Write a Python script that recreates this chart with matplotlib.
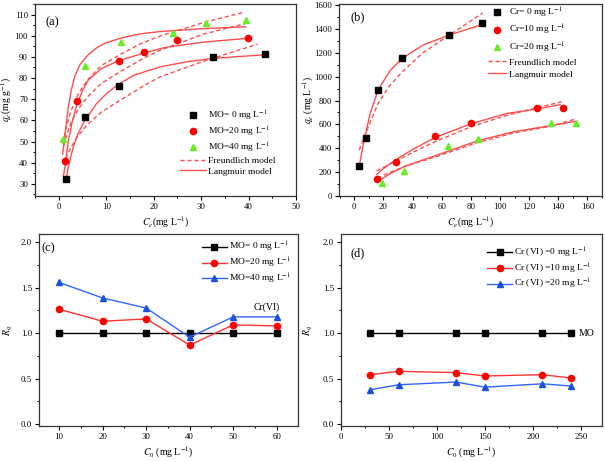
import matplotlib
matplotlib.use("Agg")
import matplotlib.pyplot as plt
from matplotlib.ticker import MultipleLocator

# ---------- panel (a): MO effect on Cr(VI) isotherm ----------
ceA0 = [1.6, 5.5, 12.8, 32.4, 43.4]
qeA0 = [32.4, 61.5, 76.2, 89.9, 91.4]
ceA20 = [1.3, 3.9, 12.6, 17.9, 25.0, 39.8]
qeA20 = [41.0, 69.3, 88.1, 92.1, 98.0, 98.7]
ceA40 = [0.9, 5.6, 13.1, 24.1, 31.0, 39.4]
qeA40 = [51.0, 85.5, 97.1, 101.4, 105.8, 107.4]

# fitted curves
langA0x = [1.5, 2.0, 3.0, 4.0, 5.5, 8.0, 10.0, 12.5, 16.0, 21.4, 27.0, 32.5, 43.4]
langA0y = [31.0, 38.0, 47.0, 53.5, 60.0, 68.0, 72.5, 77.0, 81.5, 85.3, 87.7, 89.3, 91.0]
langA20x = [1.0, 1.3, 1.6, 2.0, 2.8, 3.75, 5.0, 6.2, 9.0, 12.6, 17.9, 22.5, 30.6, 39.9]
langA20y = [34.0, 38.0, 43.0, 50.0, 59.0, 67.0, 74.0, 79.0, 84.5, 88.2, 91.8, 94.5, 97.0, 98.8]
langA40x = [0.8, 1.13, 1.5, 2.0, 2.6, 3.4, 4.5, 6.2, 8.0, 9.75, 13.3, 17.0, 21.4, 30.0, 39.4]
langA40y = [44.0, 49.0, 57.0, 66.0, 74.0, 81.0, 86.5, 91.0, 94.3, 96.5, 99.0, 100.8, 102.0, 103.3, 104.2]

freuA0x = [1.5, 2.5, 4.0, 6.0, 9.0, 13.3, 18.0, 21.4, 30.6, 41.9]
freuA0y = [42.0, 47.0, 52.5, 58.0, 64.0, 70.0, 76.5, 80.6, 88.0, 96.0]
freuA20x = [1.0, 1.5, 2.5, 4.0, 6.0, 9.0, 13.3, 18.0, 21.4, 30.6, 39.4]
freuA20y = [48.0, 52.0, 58.5, 65.0, 71.0, 77.5, 83.5, 89.5, 93.2, 100.8, 105.8]
freuA40x = [0.9, 1.5, 2.5, 4.0, 6.0, 9.0, 13.3, 17.0, 21.4, 30.6, 38.9]
freuA40y = [49.0, 56.0, 64.0, 72.0, 79.0, 86.0, 91.5, 96.0, 99.9, 106.3, 111.0]

# ---------- panel (b): Cr(VI) effect on MO isotherm ----------
ceB0 = [3.4, 7.8, 16.3, 32.8, 64.8, 87.9]
qeB0 = [254, 486, 888, 1153, 1348, 1454]
ceB10 = [15.8, 28.4, 55.4, 80.1, 125.6, 143.4]
qeB10 = [142, 285, 503, 612, 740, 741]
ceB20 = [18.8, 34.1, 64.6, 85.2, 135.3, 152.5]
qeB20 = [106, 212, 419, 475, 612, 616]

langB0x = [3.4, 6.2, 10.8, 16.3, 24.5, 32.8, 47.4, 64.8, 86.3]
langB0y = [250, 435, 687, 888, 1050, 1153, 1267, 1348, 1432]
langB10x = [15.4, 20.0, 28.0, 40.0, 55.4, 80.0, 104.7, 125.5, 141.3]
langB10y = [180, 230, 300, 390, 490, 605, 692, 730, 765]
langB20x = [15.8, 25.0, 35.0, 58.9, 85.2, 110.0, 135.1, 151.6]
langB20y = [120, 190, 250, 352, 465, 540, 590, 625]

freuB0x = [3.4, 6.0, 10.0, 16.3, 24.0, 32.8, 47.0, 64.8, 88.2]
freuB0y = [385, 470, 590, 775, 920, 1040, 1200, 1345, 1535]
freuB10x = [15.4, 28.0, 40.0, 55.4, 80.0, 104.7, 125.5, 142.4]
freuB10y = [210, 290, 365, 455, 580, 676, 740, 790]
freuB20x = [15.8, 25.0, 35.0, 58.9, 85.2, 110.0, 135.1, 151.6]
freuB20y = [150, 200, 250, 340, 450, 530, 585, 645]

# ---------- panel (c): Rq of Cr(VI) ----------
c0C = [10, 20, 30, 40, 50, 60]
rqC0 = [1.0, 1.0, 1.0, 1.0, 1.0, 1.0]
rqC20 = [1.263, 1.131, 1.157, 0.869, 1.091, 1.080]
rqC40 = [1.558, 1.387, 1.277, 0.956, 1.179, 1.179]

# ---------- panel (d): Rq of MO ----------
c0D = [30, 60, 120, 150, 210, 240]
rqD0 = [1.0, 1.0, 1.0, 1.0, 1.0, 1.0]
rqD10 = [0.544, 0.581, 0.567, 0.530, 0.544, 0.507]
rqD20 = [0.378, 0.433, 0.463, 0.407, 0.444, 0.419]

plt.rcParams["font.family"] = "serif"
plt.rcParams["font.serif"] = ["Liberation Serif", "DejaVu Serif"]
plt.rcParams["mathtext.fontset"] = "stix"

fitColor = "#ff4d4d"
green = "#66ee22"
legendFont = 6.8
labelFont = 7


def styleAxis(ax, xMajor, xMinor, yMajor, yMinor):
    """Outward ticks on left/bottom only, frame on all sides."""
    ax.xaxis.set_major_locator(MultipleLocator(xMajor))
    ax.xaxis.set_minor_locator(MultipleLocator(xMinor))
    ax.yaxis.set_major_locator(MultipleLocator(yMajor))
    ax.yaxis.set_minor_locator(MultipleLocator(yMinor))
    ax.tick_params(which="major", direction="out", length=3, width=0.8, labelsize=6.3, pad=2)
    ax.tick_params(which="minor", direction="out", length=1.6, width=0.7)
    for s in ax.spines.values():
        s.set_linewidth(0.9)
        s.set_color("#333333")


def plotIsotherms(ax, fits, points):
    """fits: list of (x, y, style, label); points: list of (x, y, marker, color, size, label)"""
    for x, y, style, label in fits:
        if style == "--":
            ax.plot(x, y, "--", color=fitColor, lw=1, dashes=(3, 2), label=label)
        else:
            ax.plot(x, y, "-", color=fitColor, lw=1, label=label)
    for x, y, marker, color, size, label in points:
        ax.plot(x, y, marker, color=color, ms=size, ls="none", label=label)


fig = plt.figure(figsize=(6.05, 4.62), dpi=100)
order = [2, 3, 4, 0, 1]

# (a)
axA = fig.add_axes([0.0579, 0.5758, 0.4314, 0.4156])
plotIsotherms(axA,
              [(freuA0x, freuA0y, "--", None), (freuA20x, freuA20y, "--", None),
               (freuA40x, freuA40y, "--", "Freundlich model"),
               (langA0x, langA0y, "-", None), (langA20x, langA20y, "-", None),
               (langA40x, langA40y, "-", "Langmuir model")],
              [(ceA0, qeA0, "s", "black", 4, "MO= 0 mg L$^{-1}$"),
               (ceA20, qeA20, "o", "red", 4.5, "MO=20 mg L$^{-1}$"),
               (ceA40, qeA40, "^", green, 5, "MO=40 mg L$^{-1}$")])
axA.set_xlim(-5, 50)
axA.set_ylim(24.3, 115)
styleAxis(axA, 10, 5, 10, 5)
axA.set_xlabel("$C_e$(mg L$^{-1}$)", fontsize=labelFont, labelpad=3)
axA.set_ylabel("$q_e$(mg g$^{-1}$)", fontsize=labelFont)
axA.yaxis.set_label_coords(-0.08, 0.5)
axA.text(0.04, 0.905, "(a)", transform=axA.transAxes, fontsize=9, va="center")
handles, labels = axA.get_legend_handles_labels()
axA.legend([handles[i] for i in order], [labels[i] for i in order], loc="upper left",
           bbox_to_anchor=(0.556, 0.455), frameon=False, fontsize=legendFont, handlelength=2.7,
           handletextpad=0.3, labelspacing=0.2, borderpad=0, borderaxespad=0)

# (b)
axB = fig.add_axes([0.5603, 0.5758, 0.4347, 0.4156])
plotIsotherms(axB,
              [(freuB0x, freuB0y, "--", None), (freuB10x, freuB10y, "--", None),
               (freuB20x, freuB20y, "--", "Freundlich model"),
               (langB0x, langB0y, "-", None), (langB10x, langB10y, "-", None),
               (langB20x, langB20y, "-", "Langmuir model")],
              [(ceB0, qeB0, "s", "black", 4, "Cr= 0 mg L$^{-1}$"),
               (ceB10, qeB10, "o", "red", 4.5, "Cr=10 mg L$^{-1}$"),
               (ceB20, qeB20, "^", green, 5, "Cr=20 mg L$^{-1}$")])
axB.set_xlim(-10.5, 170)
axB.set_ylim(0, 1610)
styleAxis(axB, 20, 10, 200, 100)
axB.set_xlabel("$C_e$(mg L$^{-1}$)", fontsize=labelFont, labelpad=3)
axB.set_ylabel("$q_e$ (mg L$^{-1}$)", fontsize=labelFont)
axB.yaxis.set_label_coords(-0.087, 0.5)
axB.text(0.045, 0.93, "(b)", transform=axB.transAxes, fontsize=9, va="center")
handles, labels = axB.get_legend_handles_labels()
axB.legend([handles[i] for i in order], [labels[i] for i in order], loc="upper left",
           bbox_to_anchor=(0.567, 0.99), frameon=False, fontsize=legendFont, handlelength=1.9,
           handletextpad=0.3, labelspacing=0.35, borderpad=0, borderaxespad=0)

# (c)
axC = fig.add_axes([0.0645, 0.0779, 0.4281, 0.4156])
axC.plot(c0C, rqC0, "-s", color="black", ms=4, lw=1, label="MO= 0 mg L$^{-1}$")
axC.plot(c0C, rqC20, "-o", color="#ff3333", mfc="red", mec="red", ms=4.5, lw=1, label="MO=20 mg L$^{-1}$")
axC.plot(c0C, rqC40, "-^", color="#3366ff", mfc="#1a4fe0", mec="#1a4fe0", ms=4.5, lw=1, label="MO=40 mg L$^{-1}$")
axC.set_xlim(5.4, 64.9)
axC.set_ylim(-0.02, 2.09)
styleAxis(axC, 10, 5, 0.5, 0.25)
axC.set_xlabel("$C_0$ (mg L$^{-1}$)", fontsize=labelFont, labelpad=3)
axC.set_ylabel("$R_q$", fontsize=labelFont)
axC.yaxis.set_label_coords(-0.093, 0.5)
axC.text(0.01, 0.925, "(c)", transform=axC.transAxes, fontsize=9, va="center")
axC.text(54.7, 1.285, "Cr(VI)", fontsize=labelFont, va="center")
axC.legend(loc="upper left", bbox_to_anchor=(0.628, 0.968), frameon=False, fontsize=legendFont,
           handlelength=2.7, handletextpad=0.15, labelspacing=0.2, borderpad=0, borderaxespad=0)

# (d)
axD = fig.add_axes([0.5636, 0.0779, 0.4314, 0.4156])
axD.plot(c0D, rqD0, "-s", color="black", ms=4, lw=1, label="Cr (VI) =0 mg L$^{-1}$")
axD.plot(c0D, rqD10, "-o", color="#ff3333", mfc="red", mec="red", ms=4.5, lw=1, label="Cr (VI) =10 mg L$^{-1}$")
axD.plot(c0D, rqD20, "-^", color="#3366ff", mfc="#1a4fe0", mec="#1a4fe0", ms=4.5, lw=1, label="Cr (VI) =20 mg L$^{-1}$")
axD.set_xlim(0, 272)
axD.set_ylim(-0.02, 2.09)
styleAxis(axD, 50, 25, 0.5, 0.25)
axD.set_xlabel("$C_0$ (mg L$^{-1}$)", fontsize=labelFont, labelpad=3)
axD.set_ylabel("$R_q$", fontsize=labelFont)
axD.yaxis.set_label_coords(-0.1, 0.5)
axD.text(0.035, 0.9, "(d)", transform=axD.transAxes, fontsize=9, va="center")
axD.text(248, 1.0, "MO", fontsize=labelFont, va="center")
axD.legend(loc="upper left", bbox_to_anchor=(0.559, 0.94), frameon=False, fontsize=legendFont,
           handlelength=2.7, handletextpad=0.15, labelspacing=0.2, borderpad=0, borderaxespad=0)

fig.savefig("out.png", dpi=100)
